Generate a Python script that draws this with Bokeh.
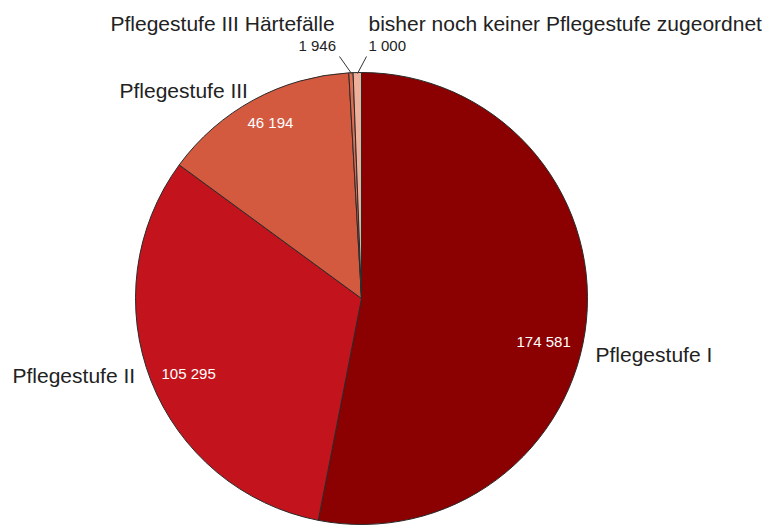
import math
from bokeh.plotting import figure
from bokeh.models import Range1d, ColumnDataSource
from bokeh.core.properties import value
from bokeh.embed import file_html
from bokeh.resources import INLINE

# ---- data (clockwise from 12 o'clock) ----
categories = ["Pflegestufe I", "Pflegestufe II", "Pflegestufe III",
              "bisher noch keiner Pflegestufe zugeordnet", "Pflegestufe III Härtefälle"]
counts = [174581, 105295, 46194, 1000, 1946]
colors = ["#8b0000", "#c3141d", "#d45a3f", "#dc6c52", "#efb09b"]

def fmt(v):
    return f"{v:,}".replace(",", " ")

W, H = 774, 525
p = figure(width=W, height=H, output_backend="svg", toolbar_location=None,
           x_range=Range1d(0, W), y_range=Range1d(525 - H, 525),
           min_border=0)
p.axis.visible = False
p.grid.visible = False
p.outline_line_color = None
p.background_fill_color = "white"

def Y(py):
    return 525 - py

cx, cy, r = 361, Y(298), 226
total = sum(counts)
starts, ends = [], []
c = 0.0
for v in counts:
    c0 = c
    c += v / total
    starts.append(math.pi / 2 - 2 * math.pi * c)
    ends.append(math.pi / 2 - 2 * math.pi * c0)

src = ColumnDataSource(dict(start=starts, end=ends, color=colors, cat=categories, val=counts))
p.wedge(x=cx, y=cy, radius=r, start_angle="start", end_angle="end",
        fill_color="color", line_color="#2a2a2a", line_width=1, source=src)

font = value("Liberation Sans")
# category labels (layout positions in page pixels: left x, baseline y)
cat_pos = {
    "Pflegestufe I": (595, 354),
    "Pflegestufe II": (12, 375),
    "Pflegestufe III": (119, 90),
    "Pflegestufe III Härtefälle": (110, 23),
    "bisher noch keiner Pflegestufe zugeordnet": (368, 23),
}
val_pos = {
    "Pflegestufe I": (516, 341, "white"),
    "Pflegestufe II": (161, 373, "white"),
    "Pflegestufe III": (247, 122, "white"),
    "Pflegestufe III Härtefälle": (298, 45, "#222222"),
    "bisher noch keiner Pflegestufe zugeordnet": (368, 45, "#222222"),
}
lx, ly, lt = [], [], []
vx, vy, vt, vc = [], [], [], []
for cat, v in zip(categories, counts):
    x0, y0 = cat_pos[cat]
    lx.append(x0); ly.append(Y(y0)); lt.append(cat)
    x1, y1, col = val_pos[cat]
    vx.append(x1); vy.append(Y(y1)); vt.append(fmt(v)); vc.append(col)

p.text(x=lx, y=ly, text=lt, text_font=font, text_font_size="21px",
       text_color="#222222", text_align="left", text_baseline="alphabetic")
p.text(x=vx, y=vy, text=vt, text_font=font, text_font_size="15px",
       text_color=vc, text_align="left", text_baseline="alphabetic")

# leader lines for the two small slices
p.segment(x0=[339, 366], y0=[Y(56), Y(56)], x1=[351, 357], y1=[Y(73), Y(73)],
          line_color="#333333", line_width=1)

open("out.html", "w").write(file_html(p, INLINE))
